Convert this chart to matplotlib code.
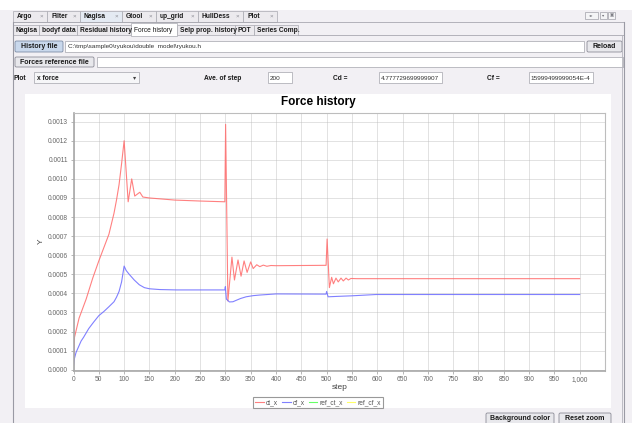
import matplotlib
matplotlib.use("Agg")
import matplotlib.pyplot as plt
from matplotlib.patches import Rectangle, FancyBboxPatch
from matplotlib.ticker import FuncFormatter

W, H = 632, 423
plt.rcParams['font.family'] = ['Liberation Sans', 'DejaVu Sans']

# ---- data ----
ct_step = [0, 2, 11, 25, 38, 50, 60, 70, 80, 85, 90, 95, 100, 108, 115, 121, 131, 137, 150,
           200, 250, 299,
           300.5, 305, 313, 318, 325, 331, 337, 343, 350, 355, 362, 368, 375, 382, 390, 400,
           499, 501, 505.5, 510, 513.5, 518.5, 523, 528.5, 533, 538.5, 543, 548, 560, 1000]
ct_x = [0.00002, 0.00017, 0.00027, 0.00037, 0.00048, 0.00057, 0.00064, 0.00071, 0.00082,
        0.00089, 0.00097, 0.00108, 0.00120, 0.00088, 0.00100, 0.00091, 0.00093, 0.000905,
        0.000900, 0.000889, 0.000884, 0.000880,
        0.001286, 0.00036, 0.00059, 0.00047, 0.000575, 0.00049, 0.00057, 0.00051, 0.000565,
        0.00053, 0.00055, 0.00054, 0.000548, 0.000542, 0.000546, 0.000545,
        0.000547, 0.000685, 0.00043, 0.000484, 0.00045, 0.00048, 0.00046, 0.00048, 0.000465,
        0.00048, 0.00047, 0.000478, 0.000477, 0.000477]

cf_step = [0, 2, 5, 10, 15, 20, 30, 40, 50, 60, 70, 80, 85, 90, 95, 100, 104, 110, 120, 130,
           140, 150, 170, 203, 299,
           300, 302, 308, 315, 321, 330, 341, 355, 367, 400, 499, 500, 503, 520, 549, 598, 1000]
cf_x = [0.00002, 0.00006, 0.00009, 0.00012, 0.00015, 0.00017, 0.000215, 0.00025, 0.000283,
        0.000305, 0.00033, 0.000356, 0.00038, 0.00041, 0.00046, 0.000543, 0.00052, 0.0005,
        0.00047, 0.000445, 0.00043, 0.000424, 0.00042, 0.000418, 0.000418,
        0.000435, 0.00037, 0.000355, 0.000356, 0.000363, 0.000373, 0.000382, 0.000388,
        0.000391, 0.000397, 0.000396, 0.00041, 0.000382, 0.000384, 0.000387, 0.000394,
        0.000394]

series_names = ['ct_x', 'cf_x', 'ref_ct_x', 'ref_cf_x']
x_ticks = list(range(0, 1001, 50))
y_ticks = [i * 0.0001 for i in range(14)]

top_tabs = ['Argo', 'Filter', 'Nagisa', 'Gtool', 'up_grid', 'HullDess', 'Plot']
sub_tabs = ['Nagisa', 'bodyf data', 'Residual history', 'Force history',
            'Selp prop. history', 'POT', 'Series Comp.']
history_path = 'C:\\tmp\\sample0\\ryukou\\double  model\\ryukou.h'
ave_of_step = '200'
cd_text = '4.777729699999907'
cf_text = '15999499999054E-4'

# ---- layout ----
top_edges = [13, 47, 80, 122, 156, 198, 243, 277]
sub_edges = [13, 39, 77, 131, 177, 235, 254, 298]
colors = ['#FF6A6A', '#6A6AFF', '#66FF66', '#FFFF66']

fig = plt.figure(figsize=(W / 100, H / 100), dpi=100)
fig.patch.set_facecolor('#F2F0F4')

gui = fig.add_axes([0, 0, 1, 1])
gui.set_xlim(0, W)
gui.set_ylim(H, 0)
gui.axis('off')


def box(x0, y0, x1, y1, fc, ec='#9A9AA4', lw=0.6, z=1, rounded=False):
    if rounded:
        p = FancyBboxPatch((x0, y0), x1 - x0, y1 - y0, boxstyle='round,pad=0,rounding_size=1.5',
                           facecolor=fc, edgecolor=ec, linewidth=lw, zorder=z)
    else:
        p = Rectangle((x0, y0), x1 - x0, y1 - y0, facecolor=fc, edgecolor=ec, linewidth=lw, zorder=z)
    gui.add_patch(p)


def label(x, y, s, size=4.8, bold=True, ha='left', color='#1A1A1A', z=3):
    gui.text(x, y, s, fontsize=size, fontweight='bold' if bold else 'normal',
             ha=ha, va='center', color=color, zorder=z)


# white strip at top
box(0, 0, W, 10, '#FFFFFF', ec='none', lw=0)

# first tab row
for i, name in enumerate(top_tabs):
    x0, x1 = top_edges[i], top_edges[i + 1]
    sel = name == 'Nagisa'
    box(x0, 11, x1, 22, '#E4EAF3' if sel else '#ECEAEE', ec='#A8A8B0', lw=0.5)
    label(x0 + 4, 16.5, name, size=4.8)
    label(x1 - 6, 16.5, '\u00d7', size=4.5, bold=False, ha='center', color='#8A8A92')
gui.plot([13, 624], [22, 22], color='#A8A8B0', lw=0.6, zorder=2)

# window icons top right
for x0, x1, s in [(585, 598, '\u25c2\u25b8'), (600, 607, '\u25be'), (608, 615, '\u25a3')]:
    box(x0, 12, x1, 19, '#F4F4F6', ec='#A0A0A8', lw=0.5)
    label((x0 + x1) / 2, 15.5, s, size=3.2, bold=False, ha='center', color='#707078')

# second tab row
for i, name in enumerate(sub_tabs):
    x0, x1 = sub_edges[i], sub_edges[i + 1]
    sel = name == 'Force history'
    if sel:
        box(x0, 23, x1, 36, '#FFFFFF', ec='#A8A8B0', lw=0.5, z=2)
    else:
        box(x0, 25, x1, 35.5, '#ECEAEE', ec='#A8A8B0', lw=0.5)
    label(x0 + 3, 30, name, size=4.8, bold=not sel)
gui.plot([298, 624], [35.5, 35.5], color='#A8A8B0', lw=0.6, zorder=2)

# panel borders
gui.plot([13, 13], [22, H], color='#9A9AA4', lw=0.8, zorder=2)
gui.plot([622, 622], [35.5, H], color='#B4B4BC', lw=0.6, zorder=2)
gui.plot([624, 624], [22, H], color='#9A9AA4', lw=0.8, zorder=2)

# file rows
box(15, 41, 63, 52, '#C9D8EC', ec='#7E8DA6', lw=0.6, rounded=True)
label(39, 46.5, 'History file', size=5, ha='center')
box(65, 41, 584, 52, '#FFFFFF', ec='#A4A4AC', lw=0.5)
label(68, 46.5, history_path, size=4.6, bold=False, color='#303030')
box(587, 41, 622, 52, '#E8E8EC', ec='#8C8C98', lw=0.6, rounded=True)
label(604.5, 46.5, 'Reload', size=5, ha='center')

box(15, 57, 94, 67, '#E8E8EC', ec='#8C8C98', lw=0.6, rounded=True)
label(54.5, 62, 'Forces reference file', size=5, ha='center')
box(97, 57, 623, 67, '#FFFFFF', ec='#A4A4AC', lw=0.5)

# settings row
label(13, 78, 'Plot', size=4.8)
box(34, 72.5, 139, 83.5, '#F6F6F8', ec='#A4A4AC', lw=0.5)
label(37, 78, 'x force', size=4.8)
label(135, 78, '\u25be', size=4.5, bold=False, ha='center', color='#404040')
label(204, 78, 'Ave. of step', size=4.8)
box(268, 72.5, 292, 83.5, '#FFFFFF', ec='#A4A4AC', lw=0.5)
label(270, 78, ave_of_step, size=4.6, bold=False, color='#303030')
label(333, 78, 'Cd =', size=4.8)
box(379, 72.5, 442, 83.5, '#FFFFFF', ec='#A4A4AC', lw=0.5)
label(381, 78, cd_text, size=4.6, bold=False, color='#303030')
label(487, 78, 'Cf =', size=4.8)
box(529, 72.5, 593, 83.5, '#FFFFFF', ec='#A4A4AC', lw=0.5)
label(530, 78, cf_text, size=4.6, bold=False, color='#303030')

# chart panel
box(25, 94, 611, 408, '#FFFFFF', ec='none', lw=0)

# bottom buttons
box(486, 413, 554, 425, '#E8E8EC', ec='#8C8C98', lw=0.6, rounded=True)
label(520, 418.5, 'Background color', size=5, ha='center')
box(559, 413, 611, 425, '#E8E8EC', ec='#8C8C98', lw=0.6, rounded=True)
label(585, 418.5, 'Reset zoom', size=5, ha='center')

# ---- chart ----
ax = fig.add_axes([73.5 / W, 1 - 371 / H, (605 - 73.5) / W, (371 - 112.7) / H])
ax.set_facecolor('#FFFFFF')
ax.plot(ct_step, ct_x, color=colors[0], lw=0.8, alpha=0.85, label=series_names[0])
ax.plot(cf_step, cf_x, color=colors[1], lw=0.8, alpha=0.85, label=series_names[1])
ax.plot([], [], color=colors[2], lw=0.8, label=series_names[2])
ax.plot([], [], color=colors[3], lw=0.8, label=series_names[3])

ax.set_xlim(0, 1050)
ax.set_ylim(-0.000007, 0.001347)
ax.set_xticks(x_ticks)
ax.set_yticks(y_ticks)
ax.xaxis.set_major_formatter(FuncFormatter(lambda v, p: f"{int(round(v)):,}"))
ax.yaxis.set_major_formatter(FuncFormatter(lambda v, p: f"{abs(v):.4f}"))
ax.grid(True, color='#BABABA', linestyle=(0, (1.2, 1.2)), linewidth=0.6)
ax.set_axisbelow(True)
ax.tick_params(axis='both', labelsize=4.8, labelcolor='#666666', length=2,
               color='#9A9A9A', width=0.5)
ax.tick_params(axis='x', pad=1.5)
ax.tick_params(axis='y', pad=2)
for side in ['left', 'bottom']:
    ax.spines[side].set_color('#A8A8A8')
    ax.spines[side].set_linewidth(1.2)
for side in ['top', 'right']:
    ax.spines[side].set_color('#BDBDBD')
    ax.spines[side].set_linewidth(0.8)

fig.text(318 / W, 1 - 101.7 / H, 'Force history', fontsize=8.5, fontweight='bold',
         ha='center', va='center', color='#000000')
fig.text(339.3 / W, 1 - 387.7 / H, 'step', fontsize=6, ha='center', va='center', color='#444444')
fig.text(41 / W, 1 - 241.7 / H, 'Y', fontsize=6, rotation=90, ha='center', va='center',
         color='#444444')

leg = fig.legend(loc='center', bbox_to_anchor=(318 / W, 1 - 402.5 / H), ncol=4, fontsize=4.8,
                 frameon=True, fancybox=False, edgecolor='#808080', handlelength=1.3,
                 handletextpad=0.3, columnspacing=0.6, borderpad=0.25, borderaxespad=0)
leg.get_frame().set_linewidth(0.8)
for t in leg.get_texts():
    t.set_color('#555555')

fig.savefig('out.png', dpi=100, facecolor=fig.get_facecolor())
